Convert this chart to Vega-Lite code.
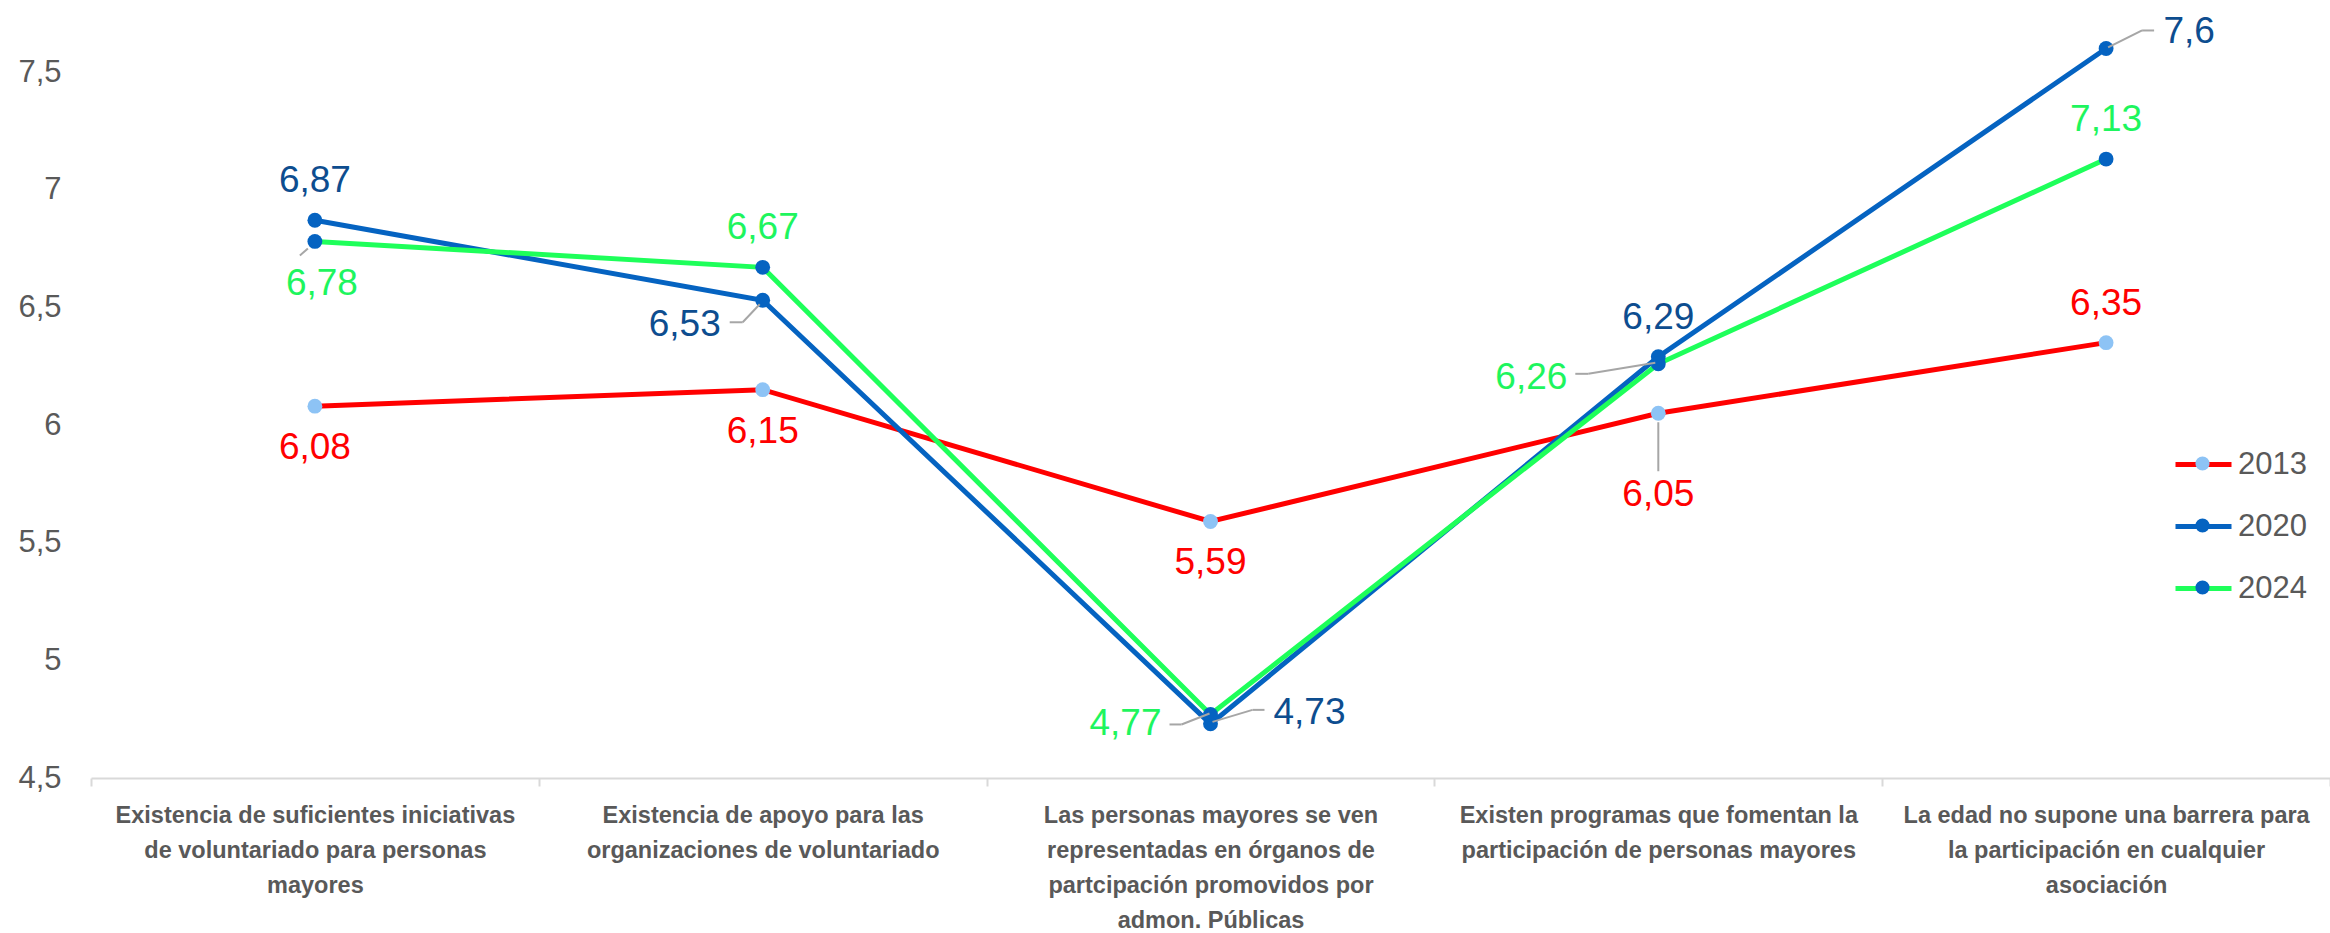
{
  "$schema": "https://vega.github.io/schema/vega-lite/v6.json",
  "width": 2239,
  "height": 706,
  "autosize": {"type": "none"},
  "padding": {"left": 91, "top": 72, "right": 0, "bottom": 155},
  "background": "white",
  "config": {"view": {"stroke": null}, "font": "Liberation Sans"},
  "data": {"values": [
    {"series": "2013", "cat": "C1", "value": 6.08, "label": "6,08"},
    {"series": "2013", "cat": "C2", "value": 6.15, "label": "6,15"},
    {"series": "2013", "cat": "C3", "value": 5.59, "label": "5,59"},
    {"series": "2013", "cat": "C4", "value": 6.05, "label": "6,05"},
    {"series": "2013", "cat": "C5", "value": 6.35, "label": "6,35"},
    {"series": "2020", "cat": "C1", "value": 6.87, "label": "6,87"},
    {"series": "2020", "cat": "C2", "value": 6.53, "label": "6,53"},
    {"series": "2020", "cat": "C3", "value": 4.73, "label": "4,73"},
    {"series": "2020", "cat": "C4", "value": 6.29, "label": "6,29"},
    {"series": "2020", "cat": "C5", "value": 7.6, "label": "7,6"},
    {"series": "2024", "cat": "C1", "value": 6.78, "label": "6,78"},
    {"series": "2024", "cat": "C2", "value": 6.67, "label": "6,67"},
    {"series": "2024", "cat": "C3", "value": 4.77, "label": "4,77"},
    {"series": "2024", "cat": "C4", "value": 6.26, "label": "6,26"},
    {"series": "2024", "cat": "C5", "value": 7.13, "label": "7,13"}
  ]},
  "encoding": {
    "x": {
      "field": "cat", "type": "nominal", "sort": null,
      "scale": {"type": "band", "paddingInner": 0, "paddingOuter": 0, "domain": ["C1", "C2", "C3", "C4", "C5"]},
      "axis": {
        "title": null, "labelAngle": 0, "tickBand": "extent",
        "domainColor": "#D9D9D9", "domainWidth": 2,
        "tickColor": "#D9D9D9", "tickWidth": 2, "tickSize": 8,
        "labelFont": "Liberation Sans", "labelFontWeight": "bold", "labelFontSize": 23.5,
        "labelColor": "#595959", "labelLineHeight": 35, "labelBaseline": "top", "labelPadding": 17, "labelLimit": 0,
        "labelExpr": "datum.value == 'C1' ? ['Existencia de suficientes iniciativas', 'de voluntariado para personas', 'mayores'] : datum.value == 'C2' ? ['Existencia de apoyo para las', 'organizaciones de voluntariado'] : datum.value == 'C3' ? ['Las personas mayores se ven', 'representadas en órganos de', 'partcipación promovidos por', 'admon. Públicas'] : datum.value == 'C4' ? ['Existen programas que fomentan la', 'participación de personas mayores'] : datum.value == 'C5' ? ['La edad no supone una barrera para', 'la participación en cualquier', 'asociación'] : ''"
      }
    },
    "y": {
      "field": "value", "type": "quantitative",
      "scale": {"domain": [4.5, 7.5], "zero": false, "nice": false},
      "axis": {
        "title": null, "domain": false, "ticks": false, "grid": false,
        "values": [4.5, 5, 5.5, 6, 6.5, 7, 7.5],
        "labelFont": "Liberation Sans", "labelFontSize": 31, "labelColor": "#595959", "labelPadding": 30,
        "labelExpr": "replace(toString(datum.value), '.', ',')"
      }
    }
  },
  "layer": [
    {
      "mark": {"type": "line", "strokeWidth": 5},
      "encoding": {
        "color": {
          "field": "series", "type": "nominal",
          "scale": {"domain": ["2013", "2020", "2024"], "range": ["#FF0000", "#0563C1", "#1EFF5A"]},
          "legend": {
            "title": null, "orient": "none", "legendX": 2082, "legendY": 362, "padding": 0, "zindex": 1,
            "symbolType": "stroke", "symbolSize": 3136, "symbolStrokeWidth": 5,
            "labelFont": "Liberation Sans", "labelFontSize": 31, "labelColor": "#595959", "labelOffset": 4, "rowPadding": 16
          }
        }
      }
    },
    {
      "mark": {"type": "point", "filled": true, "opacity": 1, "size": 220},
      "encoding": {
        "fill": {
          "field": "series", "type": "nominal",
          "scale": {"domain": ["2013", "2020", "2024"], "range": ["#8DC3F5", "#0563C1", "#0563C1"]},
          "legend": {
            "title": null, "orient": "none", "legendX": 2096, "legendY": 376, "padding": 0, "zindex": 2,
            "symbolType": "circle", "symbolSize": 200, "symbolStrokeWidth": 0, "symbolOpacity": 1,
            "labelFont": "Liberation Sans", "labelFontSize": 31, "labelOpacity": 0, "rowPadding": 30
          }
        }
      }
    },
    {"transform": [{"filter": "datum.series == '2013' && datum.cat == 'C4'"}],
     "mark": {"type": "rule", "color": "#A6A6A6", "strokeWidth": 2, "yOffset": 9, "y2Offset": 58},
     "encoding": {"x2": {"field": "cat"}, "y2": {"field": "value"}}},
    {"transform": [{"filter": "datum.series == '2020' && datum.cat == 'C2'"}],
     "mark": {"type": "rule", "color": "#A6A6A6", "strokeWidth": 2, "xOffset": -3, "yOffset": 4, "x2Offset": -20, "y2Offset": 22},
     "encoding": {"x2": {"field": "cat"}, "y2": {"field": "value"}}},
    {"transform": [{"filter": "datum.series == '2020' && datum.cat == 'C2'"}],
     "mark": {"type": "rule", "color": "#A6A6A6", "strokeWidth": 2, "xOffset": -20, "yOffset": 22, "x2Offset": -33, "y2Offset": 22},
     "encoding": {"x2": {"field": "cat"}, "y2": {"field": "value"}}},
    {"transform": [{"filter": "datum.series == '2020' && datum.cat == 'C3'"}],
     "mark": {"type": "rule", "color": "#A6A6A6", "strokeWidth": 2, "xOffset": 2, "yOffset": -2, "x2Offset": 42, "y2Offset": -14},
     "encoding": {"x2": {"field": "cat"}, "y2": {"field": "value"}}},
    {"transform": [{"filter": "datum.series == '2020' && datum.cat == 'C3'"}],
     "mark": {"type": "rule", "color": "#A6A6A6", "strokeWidth": 2, "xOffset": 42, "yOffset": -14, "x2Offset": 54, "y2Offset": -14},
     "encoding": {"x2": {"field": "cat"}, "y2": {"field": "value"}}},
    {"transform": [{"filter": "datum.series == '2024' && datum.cat == 'C3'"}],
     "mark": {"type": "rule", "color": "#A6A6A6", "strokeWidth": 2, "xOffset": -1, "yOffset": -1, "x2Offset": -29, "y2Offset": 10},
     "encoding": {"x2": {"field": "cat"}, "y2": {"field": "value"}}},
    {"transform": [{"filter": "datum.series == '2024' && datum.cat == 'C3'"}],
     "mark": {"type": "rule", "color": "#A6A6A6", "strokeWidth": 2, "xOffset": -29, "yOffset": 10, "x2Offset": -41, "y2Offset": 10},
     "encoding": {"x2": {"field": "cat"}, "y2": {"field": "value"}}},
    {"transform": [{"filter": "datum.series == '2020' && datum.cat == 'C5'"}],
     "mark": {"type": "rule", "color": "#A6A6A6", "strokeWidth": 2, "xOffset": 2, "yOffset": -1, "x2Offset": 36, "y2Offset": -18},
     "encoding": {"x2": {"field": "cat"}, "y2": {"field": "value"}}},
    {"transform": [{"filter": "datum.series == '2020' && datum.cat == 'C5'"}],
     "mark": {"type": "rule", "color": "#A6A6A6", "strokeWidth": 2, "xOffset": 36, "yOffset": -18, "x2Offset": 48, "y2Offset": -18},
     "encoding": {"x2": {"field": "cat"}, "y2": {"field": "value"}}},
    {"transform": [{"filter": "datum.series == '2024' && datum.cat == 'C4'"}],
     "mark": {"type": "rule", "color": "#A6A6A6", "strokeWidth": 2, "xOffset": -3, "yOffset": -1, "x2Offset": -70, "y2Offset": 10},
     "encoding": {"x2": {"field": "cat"}, "y2": {"field": "value"}}},
    {"transform": [{"filter": "datum.series == '2024' && datum.cat == 'C4'"}],
     "mark": {"type": "rule", "color": "#A6A6A6", "strokeWidth": 2, "xOffset": -70, "yOffset": 10, "x2Offset": -83, "y2Offset": 10},
     "encoding": {"x2": {"field": "cat"}, "y2": {"field": "value"}}},
    {"transform": [{"filter": "datum.series == '2024' && datum.cat == 'C1'"}],
     "mark": {"type": "rule", "color": "#A6A6A6", "strokeWidth": 2, "xOffset": -7, "yOffset": 7, "x2Offset": -15, "y2Offset": 14},
     "encoding": {"x2": {"field": "cat"}, "y2": {"field": "value"}}},
    {"transform": [{"filter": "(datum.series == '2013' && datum.cat == 'C5') || (datum.series == '2020' && (datum.cat == 'C1' || datum.cat == 'C4')) || (datum.series == '2024' && (datum.cat == 'C2' || datum.cat == 'C5'))"}],
     "mark": {"type": "text", "fontSize": 37, "font": "Liberation Sans", "baseline": "middle", "align": "center", "dy": -39},
     "encoding": {"text": {"field": "label"}, "color": {"field": "series", "type": "nominal", "scale": {"domain": ["2013", "2020", "2024"], "range": ["#FF0000", "#0D4D8F", "#1EF55E"]}, "legend": null}}},
    {"transform": [{"filter": "datum.series == '2013' && (datum.cat == 'C1' || datum.cat == 'C2' || datum.cat == 'C3')"}],
     "mark": {"type": "text", "fontSize": 37, "font": "Liberation Sans", "baseline": "middle", "align": "center", "dy": 42},
     "encoding": {"text": {"field": "label"}, "color": {"field": "series", "type": "nominal", "scale": {"domain": ["2013", "2020", "2024"], "range": ["#FF0000", "#0D4D8F", "#1EF55E"]}, "legend": null}}},
    {"transform": [{"filter": "datum.series == '2024' && datum.cat == 'C1'"}],
     "mark": {"type": "text", "fontSize": 37, "font": "Liberation Sans", "baseline": "middle", "align": "center", "dx": 7, "dy": 43},
     "encoding": {"text": {"field": "label"}, "color": {"field": "series", "type": "nominal", "scale": {"domain": ["2013", "2020", "2024"], "range": ["#FF0000", "#0D4D8F", "#1EF55E"]}, "legend": null}}},
    {"transform": [{"filter": "datum.series == '2013' && datum.cat == 'C4'"}],
     "mark": {"type": "text", "fontSize": 37, "font": "Liberation Sans", "baseline": "middle", "align": "center", "dy": 82},
     "encoding": {"text": {"field": "label"}, "color": {"field": "series", "type": "nominal", "scale": {"domain": ["2013", "2020", "2024"], "range": ["#FF0000", "#0D4D8F", "#1EF55E"]}, "legend": null}}},
    {"transform": [{"filter": "datum.series == '2020' && datum.cat == 'C2'"}],
     "mark": {"type": "text", "fontSize": 37, "font": "Liberation Sans", "baseline": "middle", "align": "center", "dx": -78, "dy": 25},
     "encoding": {"text": {"field": "label"}, "color": {"field": "series", "type": "nominal", "scale": {"domain": ["2013", "2020", "2024"], "range": ["#FF0000", "#0D4D8F", "#1EF55E"]}, "legend": null}}},
    {"transform": [{"filter": "datum.series == '2020' && datum.cat == 'C3'"}],
     "mark": {"type": "text", "fontSize": 37, "font": "Liberation Sans", "baseline": "middle", "align": "center", "dx": 99, "dy": -11},
     "encoding": {"text": {"field": "label"}, "color": {"field": "series", "type": "nominal", "scale": {"domain": ["2013", "2020", "2024"], "range": ["#FF0000", "#0D4D8F", "#1EF55E"]}, "legend": null}}},
    {"transform": [{"filter": "datum.series == '2024' && datum.cat == 'C3'"}],
     "mark": {"type": "text", "fontSize": 37, "font": "Liberation Sans", "baseline": "middle", "align": "center", "dx": -85, "dy": 10},
     "encoding": {"text": {"field": "label"}, "color": {"field": "series", "type": "nominal", "scale": {"domain": ["2013", "2020", "2024"], "range": ["#FF0000", "#0D4D8F", "#1EF55E"]}, "legend": null}}},
    {"transform": [{"filter": "datum.series == '2020' && datum.cat == 'C5'"}],
     "mark": {"type": "text", "fontSize": 37, "font": "Liberation Sans", "baseline": "middle", "align": "center", "dx": 83, "dy": -16},
     "encoding": {"text": {"field": "label"}, "color": {"field": "series", "type": "nominal", "scale": {"domain": ["2013", "2020", "2024"], "range": ["#FF0000", "#0D4D8F", "#1EF55E"]}, "legend": null}}},
    {"transform": [{"filter": "datum.series == '2024' && datum.cat == 'C4'"}],
     "mark": {"type": "text", "fontSize": 37, "font": "Liberation Sans", "baseline": "middle", "align": "center", "dx": -127, "dy": 14},
     "encoding": {"text": {"field": "label"}, "color": {"field": "series", "type": "nominal", "scale": {"domain": ["2013", "2020", "2024"], "range": ["#FF0000", "#0D4D8F", "#1EF55E"]}, "legend": null}}}
  ],
  "resolve": {"scale": {"color": "independent", "fill": "independent"}, "legend": {"color": "independent", "fill": "independent"}}
}
